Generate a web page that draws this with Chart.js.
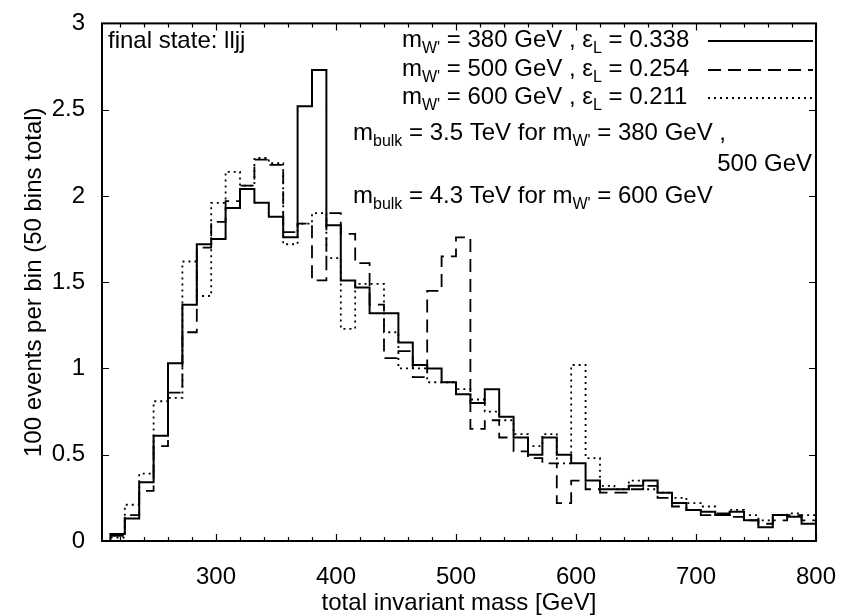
<!DOCTYPE html>
<html>
<head>
<meta charset="utf-8">
<script src="https://cdn.jsdelivr.net/npm/chart.js@4.4.0/dist/chart.umd.min.js"></script>
<style>
  html, body { margin: 0; padding: 0; background: #fff; }
</style>
</head>
<body>
<canvas id="hist" width="850" height="615"></canvas>
<script>
// 50 bins of 12 GeV between 200 and 800 GeV
const binEdges = [200, 212, 224, 236, 248, 260, 272, 284, 296, 308,
                  320, 332, 344, 356, 368, 380, 392, 404, 416, 428,
                  440, 452, 464, 476, 488, 500, 512, 524, 536, 548,
                  560, 572, 584, 596, 608, 620, 632, 644, 656, 668,
                  680, 692, 704, 716, 728, 740, 752, 764, 776, 788, 800];

// m_W' = 380 GeV (solid)
const mw380 = [0, 0.04, 0.13, 0.34, 0.61, 1.03, 1.37, 1.72, 1.75, 1.93,
               2.04, 1.96, 1.88, 1.76, 2.52, 2.73, 1.83, 1.51, 1.47, 1.32,
               1.32, 1.15, 1.02, 1.0, 0.92, 0.85, 0.8, 0.88, 0.72, 0.6,
               0.5, 0.6, 0.5, 0.45, 0.35, 0.3, 0.3, 0.32, 0.35, 0.28,
               0.22, 0.18, 0.17, 0.15, 0.17, 0.12, 0.08, 0.15, 0.14, 0.1];
// m_W' = 500 GeV (dashed)
const mw500 = [0, 0.03, 0.15, 0.29, 0.55, 0.86, 1.21, 1.7, 1.85, 1.97,
               2.06, 2.21, 2.18, 1.79, 1.84, 1.51, 1.9, 1.78, 1.61, 1.37,
               1.06, 1.1, 0.95, 1.45, 1.65, 1.76, 0.65, 0.7, 0.6, 0.52,
               0.48, 0.45, 0.22, 0.35, 0.3, 0.28, 0.28, 0.3, 0.32, 0.25,
               0.2, 0.18, 0.15, 0.16, 0.14, 0.12, 0.1, 0.12, 0.15, 0.12];
// m_W' = 600 GeV (dotted)
const mw600 = [0, 0.02, 0.21, 0.39, 0.81, 0.83, 1.62, 1.42, 1.96, 2.14,
               2.06, 2.22, 2.19, 1.72, 1.84, 1.9, 1.64, 1.23, 1.49, 1.49,
               1.21, 1.0, 1.0, 0.92, 0.92, 0.88, 0.82, 0.75, 0.7, 0.62,
               0.55, 0.62, 0.45, 1.02, 0.48, 0.32, 0.3, 0.35, 0.3, 0.28,
               0.25, 0.22, 0.2, 0.15, 0.18, 0.15, 0.12, 0.15, 0.16, 0.15];

const xTicks = [300, 400, 500, 600, 700, 800];
const yTicks = [0, 0.5, 1, 1.5, 2, 2.5, 3];

const FONT = '"Liberation Sans", Arial, Helvetica, sans-serif';

// histogram outline: one point per left bin edge plus the closing edge
function steps(vals) {
    let pts = vals.map((v, i) => ({ x: binEdges[i], y: v }));
    pts.push({ x: binEdges[vals.length], y: vals[vals.length - 1] });
    return pts;
}

// text with subscripts: parts = [[text, isSub], ...]
function richText(ctx, x, y, parts, align) {
    const sizeFor = sub => (sub ? 16 : 24);
    let w = 0;
    parts.forEach(p => {
        ctx.font = sizeFor(p[1]) + 'px ' + FONT;
        w += ctx.measureText(p[0]).width;
    });
    let cx = align === 'right' ? x - w : x;
    parts.forEach(p => {
        ctx.font = sizeFor(p[1]) + 'px ' + FONT;
        ctx.fillText(p[0], cx, p[1] ? y + 6 : y);
        cx += ctx.measureText(p[0]).width;
    });
}

const frameAndText = {
    id: 'frameAndText',
    afterDatasetsDraw(chart) {
        const ctx = chart.ctx;
        const area = chart.chartArea;
        const xs = chart.scales.x, ys = chart.scales.y;
        ctx.save();
        ctx.strokeStyle = '#000';
        ctx.lineWidth = 1.2;
        ctx.setLineDash([]);
        // inside ticks, bottom and top
        for (let v = 220; v <= 800; v += 20) {
            const px = Math.round(xs.getPixelForValue(v)) + 0.5;
            const len = v % 100 === 0 ? 7 : 4;
            ctx.beginPath();
            ctx.moveTo(px, area.bottom); ctx.lineTo(px, area.bottom - len);
            ctx.moveTo(px, area.top); ctx.lineTo(px, area.top + len);
            ctx.stroke();
        }
        // inside ticks, left and right
        yTicks.forEach(v => {
            const py = Math.round(ys.getPixelForValue(v)) + 0.5;
            ctx.beginPath();
            ctx.moveTo(area.left, py); ctx.lineTo(area.left + 7, py);
            ctx.moveTo(area.right, py); ctx.lineTo(area.right - 7, py);
            ctx.stroke();
        });
        ctx.lineWidth = 2;
        ctx.strokeRect(area.left, area.top, area.right - area.left, area.bottom - area.top);

        ctx.fillStyle = '#000';
        ctx.textBaseline = 'alphabetic';
        ctx.textAlign = 'left';
        ctx.font = '24px ' + FONT;
        ctx.fillText('final state: lljj', 108, 48);

        // legend
        const rows = [
            [[['m', 0], ["W'", 1], [' = 380 GeV , ε', 0], ['L', 1], [' = 0.338', 0]], 47],
            [[['m', 0], ["W'", 1], [' = 500 GeV , ε', 0], ['L', 1], [' = 0.254', 0]], 76],
            [[['m', 0], ["W'", 1], [' = 600 GeV , ε', 0], ['L', 1], [' = 0.211', 0]], 104]
        ];
        rows.forEach((r, i) => {
            richText(ctx, 402, r[1], r[0]);
            const ds = chart.data.datasets[i];
            ctx.strokeStyle = ds.borderColor;
            ctx.lineWidth = ds.borderWidth;
            ctx.setLineDash(ds.borderDash || []);
            ctx.beginPath();
            ctx.moveTo(708, r[1] - 6);
            ctx.lineTo(813, r[1] - 6);
            ctx.stroke();
        });
        ctx.setLineDash([]);

        richText(ctx, 353, 140, [['m', 0], ['bulk', 1], [' = 3.5 TeV for m', 0], ["W'", 1], [' = 380 GeV ,', 0]]);
        richText(ctx, 812, 171, [['500 GeV', 0]], 'right');
        richText(ctx, 353, 203, [['m', 0], ['bulk', 1], [' = 4.3 TeV for m', 0], ["W'", 1], [' = 600 GeV', 0]]);
        ctx.restore();
    }
};

new Chart(document.getElementById('hist').getContext('2d'), {
    type: 'line',
    data: {
        datasets: [{
            label: "m_W' = 380 GeV",
            data: steps(mw380),
            stepped: 'before',
            borderColor: '#000',
            borderWidth: 2,
            pointRadius: 0,
            fill: false
        }, {
            label: "m_W' = 500 GeV",
            data: steps(mw500),
            stepped: 'before',
            borderColor: '#000',
            borderWidth: 1.8,
            borderDash: [13, 7],
            pointRadius: 0,
            fill: false
        }, {
            label: "m_W' = 600 GeV",
            data: steps(mw600),
            stepped: 'before',
            borderColor: '#000',
            borderWidth: 1.8,
            borderDash: [2, 4],
            pointRadius: 0,
            fill: false
        }]
    },
    options: {
        responsive: false,
        devicePixelRatio: 1,
        animation: false,
        layout: { padding: { top: 17, right: 29, left: 0, bottom: 0 } },
        plugins: {
            legend: { display: false },
            tooltip: { enabled: false }
        },
        scales: {
            x: {
                type: 'linear',
                min: 205,
                max: 800,
                afterBuildTicks: s => { s.ticks = xTicks.map(v => ({ value: v })); },
                afterFit: s => { s.height = 74; },
                grid: { display: false },
                border: { display: false },
                ticks: { color: '#000', font: { size: 24, family: FONT }, padding: 14, maxRotation: 0, autoSkip: false },
                title: {
                    display: true,
                    text: 'total invariant mass [GeV]',
                    color: '#000',
                    font: { size: 24, family: FONT, lineHeight: 1 },
                    padding: { top: 0, bottom: 0 }
                }
            },
            y: {
                min: 0,
                max: 3,
                afterBuildTicks: s => { s.ticks = yTicks.map(v => ({ value: v })); },
                afterFit: s => { s.width = 102; },
                grid: { display: false },
                border: { display: false },
                ticks: {
                    color: '#000',
                    font: { size: 24, family: FONT },
                    padding: 9,
                    callback: v => String(v)
                },
                title: {
                    display: true,
                    text: '100 events per bin (50 bins total)',
                    color: '#000',
                    font: { size: 24, family: FONT, lineHeight: 1 },
                    padding: { top: 22, bottom: 0 }
                }
            }
        }
    },
    plugins: [frameAndText]
});
</script>
</body>
</html>
